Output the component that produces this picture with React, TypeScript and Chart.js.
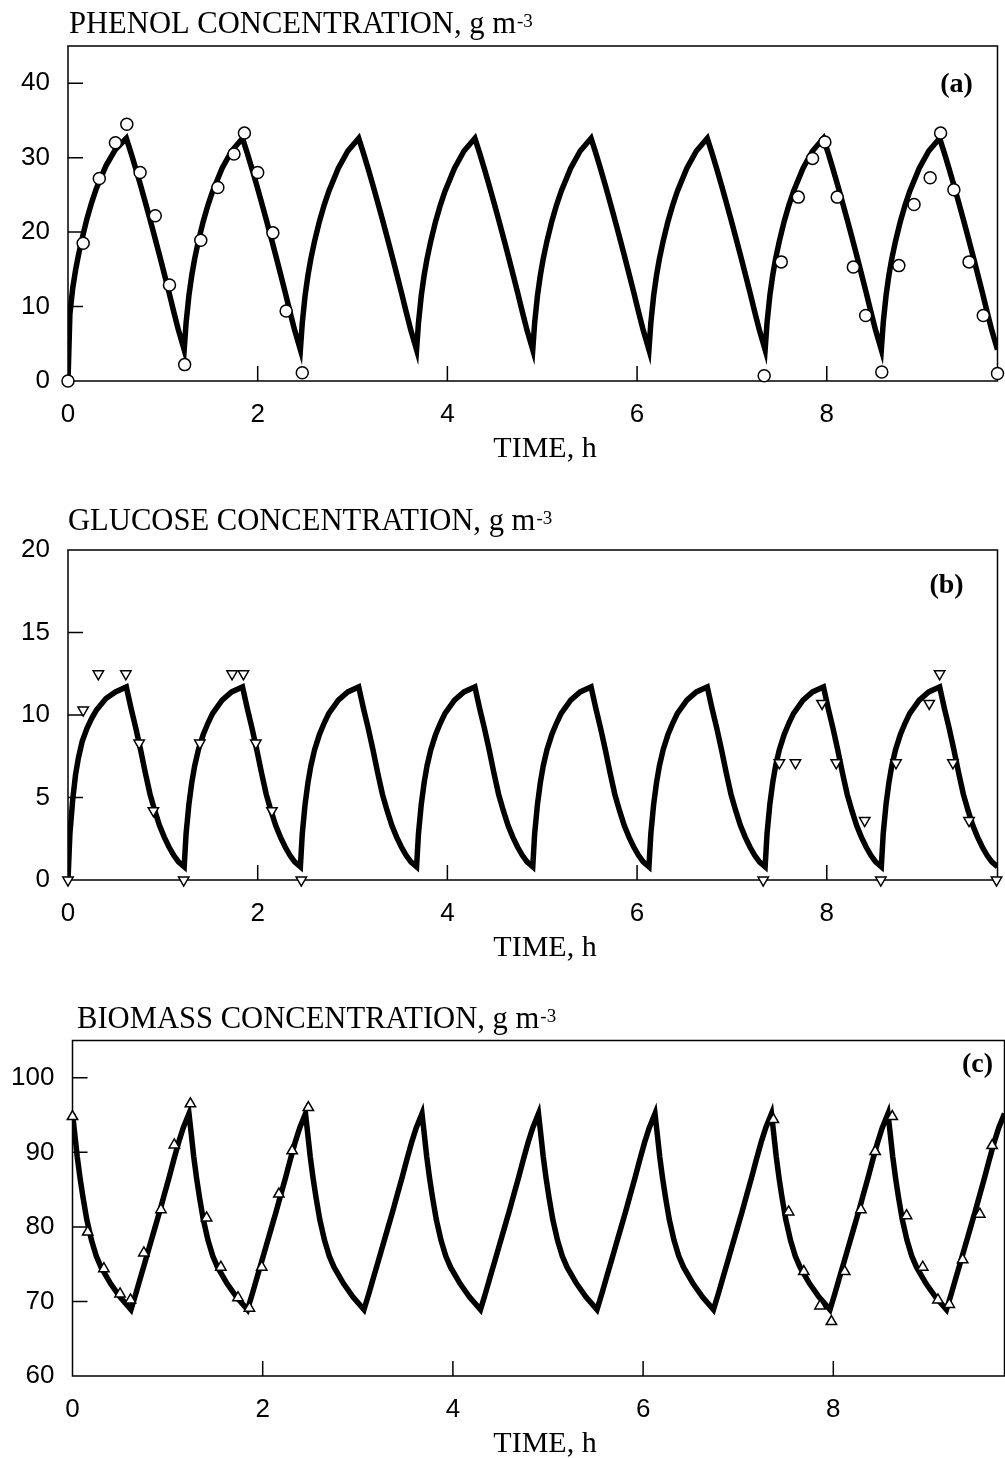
import React, { useEffect, useRef } from 'react';
import { Chart, registerables } from 'chart.js';

Chart.register(...registerables);

// ---------- tick labels ----------
const timeTicks = [0, 2, 4, 6, 8];
const phenolTicks = [0, 10, 20, 30, 40];
const glucoseTicks = [0, 5, 10, 15, 20];
const biomassTicks = [60, 70, 80, 90, 100];
const timeTitle = 'TIME, h';

// ---------- model curves (one repeated SBR cycle) ----------
const cycleStarts = [0, 1.225, 2.45, 3.675, 4.9, 6.125, 7.35, 8.575];
const fillHours = 0.615;
const fillOffsets = [0, 0.02, 0.05, 0.08, 0.11, 0.15, 0.2, 0.25, 0.3, 0.4, 0.5, 0.615];
const drawOffsets = [0, 0.05, 0.1, 0.15, 0.2, 0.25, 0.3, 0.35, 0.4, 0.45, 0.5, 0.55, 0.61];

const phenolFirstFill = [0, 9.0, 12.5, 14.9, 16.9, 19.2, 21.8, 24.0, 25.9, 28.9, 31.1, 32.6];
const phenolFill = [4.2, 7.8, 11.5, 14.2, 16.4, 18.8, 21.4, 23.6, 25.5, 28.6, 30.9, 32.6];
const phenolDraw = [32.6, 30.6, 28.5, 26.3, 24.0, 21.7, 19.3, 16.9, 14.4, 11.9, 9.3, 6.8, 4.2];

const glucoseFirstFill = [0, 2.8, 4.9, 6.4, 7.4, 8.4, 9.2, 9.8, 10.3, 11.0, 11.4, 11.7];
const glucoseFill = [0.8, 2.8, 4.6, 5.9, 6.9, 7.9, 8.8, 9.5, 10.1, 10.9, 11.4, 11.7];
const glucoseDraw = [11.7, 10.4, 9.2, 7.9, 6.5, 5.2, 4.2, 3.3, 2.6, 2.0, 1.5, 1.1, 0.8];

const biomassFill = [95.2, 92.9, 89.4, 86.5, 84.0, 81.0, 78.2, 76.1, 74.6, 72.4, 70.6, 68.9];
const biomassDraw = [68.9, 71.0, 73.2, 75.4, 77.6, 79.8, 82.0, 84.3, 86.6, 89.0, 91.3, 93.3, 95.2];

// ---------- measured points ----------
const phenolObsTime = [0, 0.16, 0.33, 0.5, 0.62, 0.76, 0.92, 1.07, 1.23, 1.4, 1.58, 1.75, 1.86, 2.0, 2.16, 2.3, 2.47,
  7.34, 7.52, 7.7, 7.85, 7.98, 8.11, 8.28, 8.41, 8.58, 8.76, 8.92, 9.09, 9.2, 9.34, 9.5, 9.65, 9.8];
const phenolObs = [0, 18.5, 27.2, 32.0, 34.5, 28.0, 22.2, 12.9, 2.2, 18.9, 26.0, 30.5, 33.3, 28.0, 19.9, 9.4, 1.1,
  0.7, 16.0, 24.7, 29.9, 32.1, 24.7, 15.3, 8.8, 1.2, 15.5, 23.7, 27.3, 33.3, 25.7, 16.0, 8.8, 1.0];

const glucoseObsTime = [0, 0.16, 0.32, 0.61, 0.75, 0.9, 1.22, 1.39, 1.73, 1.85, 1.98, 2.15, 2.46,
  7.33, 7.5, 7.67, 7.95, 8.1, 8.4, 8.57, 8.73, 9.08, 9.19, 9.33, 9.5, 9.79];
const glucoseObs = [0, 10.3, 12.5, 12.5, 8.3, 4.2, 0, 8.3, 12.5, 12.5, 8.3, 4.2, 0,
  0, 7.1, 7.1, 10.7, 7.1, 3.6, 0, 7.1, 10.7, 12.5, 7.1, 3.6, 0];

const biomassObsTime = [0, 0.16, 0.33, 0.5, 0.61, 0.75, 0.93, 1.07, 1.24, 1.41, 1.56, 1.74, 1.86, 1.99, 2.17, 2.31, 2.48,
  7.37, 7.53, 7.69, 7.86, 7.98, 8.12, 8.29, 8.44, 8.62, 8.77, 8.94, 9.1, 9.22, 9.36, 9.54, 9.67];
const biomassObs = [94.8, 79.3, 74.4, 71.0, 70.2, 76.5, 82.3, 91.0, 96.5, 81.2, 74.6, 70.5, 69.1, 74.6, 84.4, 90.2, 96.0,
  94.4, 82.0, 74.0, 69.4, 67.3, 74.0, 82.3, 90.1, 94.8, 81.5, 74.6, 70.2, 69.6, 75.6, 81.7, 90.9];

const SERIF = "'Liberation Serif', 'Times New Roman', Times, serif";
const SANS = "'Liberation Sans', Arial, Helvetica, sans-serif";

type Pt = { x: number; y: number };

function buildCurve(firstFill: number[], fill: number[], draw: number[]): Pt[] {
  const pts: Pt[] = [];
  cycleStarts.forEach((start, i) => {
    const f = i === 0 ? firstFill : fill;
    fillOffsets.forEach((o, j) => {
      if (i > 0 && j === 0) return;
      pts.push({ x: start + o, y: f[j] });
    });
    drawOffsets.forEach((o, j) => {
      if (j === 0) return;
      pts.push({ x: start + fillHours + o, y: draw[j] });
    });
  });
  return pts;
}

function zipPts(xs: number[], ys: number[]): Pt[] {
  return xs.map((x, i) => ({ x, y: ys[i] }));
}

type PanelCfg = {
  canvasTop: number;
  width: number;
  height: number;
  padTop: number;
  padRight: number;
  padBottom: number;
  yAxisWidth: number;
  xAxisHeight: number;
  yMin: number;
  yMax: number;
  yTicks: number[];
  title: string;
  titleX: number;
  titleY: number;
  tag: string;
  tagDx: number;
  tagDy: number;
  curve: Pt[];
  obs: Pt[];
  pointStyle: string;
  rotation: number;
  radius: number;
};

function makeDecor(cfg: PanelCfg) {
  return {
    id: 'decor',
    beforeDatasetsDraw(chart: any) {
      const { ctx, chartArea } = chart;
      const { left, right, top, bottom } = chartArea;
      const xs = chart.scales.x;
      const ys = chart.scales.y;
      ctx.save();
      ctx.strokeStyle = '#000';
      ctx.lineWidth = 1.5;
      ctx.strokeRect(left, top, right - left, bottom - top);
      ctx.beginPath();
      timeTicks.forEach((v) => {
        if (v > xs.min && v < xs.max) {
          const p = xs.getPixelForValue(v);
          ctx.moveTo(p, bottom);
          ctx.lineTo(p, bottom - 15);
        }
      });
      cfg.yTicks.forEach((v) => {
        if (v > ys.min && v < ys.max) {
          const p = ys.getPixelForValue(v);
          ctx.moveTo(left, p);
          ctx.lineTo(left + 15, p);
        }
      });
      ctx.stroke();
      ctx.restore();
    },
    afterDraw(chart: any) {
      const { ctx, chartArea } = chart;
      ctx.save();
      ctx.fillStyle = '#000';
      ctx.textAlign = 'left';
      ctx.textBaseline = 'alphabetic';
      ctx.font = `30.6px ${SERIF}`;
      ctx.fillText(cfg.title, cfg.titleX, cfg.titleY);
      const w = ctx.measureText(cfg.title).width;
      ctx.font = `19px ${SERIF}`;
      ctx.fillText('-3', cfg.titleX + w + 1, cfg.titleY - 6);
      // x-axis title
      ctx.font = `30px ${SERIF}`;
      ctx.textAlign = 'center';
      ctx.fillText(timeTitle, 545, chartArea.bottom + 75.7);
      // panel tag
      ctx.font = `bold 28px ${SERIF}`;
      ctx.textBaseline = 'middle';
      ctx.fillText(cfg.tag, chartArea.right - cfg.tagDx, chartArea.top + cfg.tagDy);
      ctx.restore();
    },
  };
}

function Panel({ cfg }: { cfg: PanelCfg }) {
  const ref = useRef<HTMLCanvasElement | null>(null);
  useEffect(() => {
    if (!ref.current) return;
    const chart = new Chart(ref.current, {
      type: 'scatter',
      data: {
        datasets: [
          {
            data: cfg.obs,
            showLine: false,
            pointStyle: cfg.pointStyle as any,
            rotation: cfg.rotation,
            pointRadius: cfg.radius,
            pointBorderWidth: 1.5,
            pointBackgroundColor: '#ffffff',
            pointBorderColor: '#000000',
            clip: false as any,
          },
          {
            data: cfg.curve,
            showLine: true,
            borderColor: '#000000',
            borderWidth: 5.5,
            pointRadius: 0,
            tension: 0,
            fill: false,
            borderJoinStyle: 'miter',
          } as any,
        ],
      },
      options: {
        animation: false,
        responsive: false,
        maintainAspectRatio: false,
        events: [],
        devicePixelRatio: 1,
        layout: { padding: { top: cfg.padTop, right: cfg.padRight, bottom: cfg.padBottom, left: 0 } },
        plugins: { legend: { display: false }, tooltip: { enabled: false } },
        scales: {
          x: {
            type: 'linear',
            min: 0,
            max: 9.8,
            afterBuildTicks: (s: any) => {
              s.ticks = timeTicks.map((v) => ({ value: v }));
            },
            afterFit: (s: any) => {
              s.height = cfg.xAxisHeight;
            },
            grid: { display: false, drawTicks: false },
            border: { display: false },
            ticks: {
              padding: 18,
              color: '#000',
              font: { family: SANS, size: 26 },
              maxRotation: 0,
              autoSkip: false,
              callback: (v: any) => String(v),
            },
            title: { display: false },
          },
          y: {
            type: 'linear',
            min: cfg.yMin,
            max: cfg.yMax,
            afterBuildTicks: (s: any) => {
              s.ticks = cfg.yTicks.map((v) => ({ value: v }));
            },
            afterFit: (s: any) => {
              s.width = cfg.yAxisWidth;
            },
            grid: { display: false, drawTicks: false },
            border: { display: false },
            ticks: {
              padding: 18,
              color: '#000',
              font: { family: SANS, size: 26 },
              autoSkip: false,
              callback: (v: any) => String(v),
            },
          },
        },
      } as any,
      plugins: [makeDecor(cfg)],
    });
    return () => chart.destroy();
  }, [cfg]);
  return (
    <canvas
      ref={ref}
      width={cfg.width}
      height={cfg.height}
      style={{ position: 'absolute', left: 0, top: cfg.canvasTop, width: cfg.width, height: cfg.height }}
    />
  );
}

const panels: PanelCfg[] = [
  {
    canvasTop: 0, width: 1005, height: 470, padTop: 46, padRight: 2, padBottom: 5.4,
    yAxisWidth: 68, xAxisHeight: 83.6, yMin: 0, yMax: 45, yTicks: phenolTicks,
    title: 'PHENOL CONCENTRATION, g m', titleX: 69, titleY: 33, tag: '(a)', tagDx: 41, tagDy: 39,
    curve: buildCurve(phenolFirstFill, phenolFill, phenolDraw),
    obs: zipPts(phenolObsTime, phenolObs), pointStyle: 'circle', rotation: 0, radius: 6,
  },
  {
    canvasTop: 470, width: 1005, height: 500, padTop: 80, padRight: 3, padBottom: 6.4,
    yAxisWidth: 68, xAxisHeight: 83.6, yMin: 0, yMax: 20, yTicks: glucoseTicks,
    title: 'GLUCOSE CONCENTRATION, g m', titleX: 68, titleY: 60, tag: '(b)', tagDx: 51, tagDy: 36,
    curve: buildCurve(glucoseFirstFill, glucoseFill, glucoseDraw),
    obs: zipPts(glucoseObsTime, glucoseObs), pointStyle: 'triangle', rotation: 180, radius: 6,
  },
  {
    canvasTop: 970, width: 1012, height: 492, padTop: 70.5, padRight: 6, padBottom: 2.4,
    yAxisWidth: 72.5, xAxisHeight: 83.6, yMin: 60, yMax: 105, yTicks: biomassTicks,
    title: 'BIOMASS CONCENTRATION, g m', titleX: 77, titleY: 58, tag: '(c)', tagDx: 27, tagDy: 24.5,
    curve: buildCurve(biomassFill, biomassFill, biomassDraw),
    obs: zipPts(biomassObsTime, biomassObs), pointStyle: 'triangle', rotation: 0, radius: 6,
  },
];

export default function App() {
  return (
    <div
      style={{
        position: 'absolute',
        left: 0,
        top: 0,
        width: 1005,
        height: 1458,
        overflow: 'hidden',
        background: '#ffffff',
      }}
    >
      {panels.map((p, i) => (
        <Panel key={i} cfg={p} />
      ))}
    </div>
  );
}
